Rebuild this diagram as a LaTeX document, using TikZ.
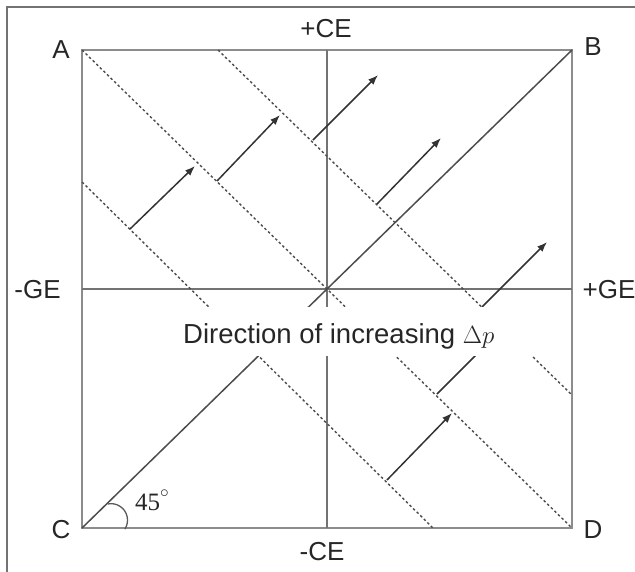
\documentclass[tikz,border=0pt]{standalone}
\usepackage{fontspec}
\setmainfont{Liberation Sans}
\newfontfamily\seriffont{Liberation Serif}
\usetikzlibrary{arrows.meta}
\begin{document}
\begin{tikzpicture}[x=1pt,y=-1pt,
  frame/.style={draw=black!55, line width=1.6pt},
  sq/.style={draw=black!45, line width=2.4pt},
  axis/.style={draw=black!55, line width=1.8pt},
  diag/.style={draw=black!70, line width=1.5pt},
  dashline/.style={draw=black!70, line width=1.4pt, dash pattern=on 2.5pt off 2.5pt},
  arr/.style={draw=black!80, line width=1.5pt, -{Latex[length=10pt,width=7.5pt]}},
  lbl/.style={font=\fontsize{26}{26}\selectfont, text=black!85, inner sep=0pt}]
\useasboundingbox (0,0) rectangle (635,571);
\clip (0,0) rectangle (635,571);
% outer frame (only top and left edges visible)
\draw[frame] (7,590) -- (7,7) -- (650,7);
% corners and axis ends
\coordinate (A) at (82,50);
\coordinate (B) at (572,50);
\coordinate (C) at (82,528);
\coordinate (D) at (572,528);
\coordinate (O) at (327,289);
\coordinate (Nt) at (327,50);
\coordinate (Nb) at (327,528);
\coordinate (Wl) at (82,289);
\coordinate (Er) at (572,289);
% square and axes
\draw[sq] (A) rectangle (D);
\draw[axis] (Nt) -- (Nb);
\draw[axis] (Wl) -- (Er);
% dashed iso-lines
\coordinate (L2a) at (82,182);
\coordinate (L2b) at (433,528);
\coordinate (L3a) at (218,50);
\coordinate (L3b) at (572,395);
\draw[dashline] (A) -- (D);
\draw[dashline] (L2a) -- (L2b);
\draw[dashline] (L3a) -- (L3b);
% solid diagonal
\draw[diag] (C) -- (B);
% arrows
\coordinate (a1s) at (130,229); \coordinate (a1e) at (195,166);
\coordinate (a2s) at (217,181); \coordinate (a2e) at (280,115);
\coordinate (a3s) at (313,140); \coordinate (a3e) at (378,75);
\coordinate (a4s) at (377,204); \coordinate (a4e) at (441,138);
\coordinate (a5s) at (482,307); \coordinate (a5e) at (547,242);
\coordinate (a6s) at (437,394); \coordinate (a6e) at (500,331);
\coordinate (a7s) at (387,480); \coordinate (a7e) at (452,413);
\draw[arr] (a1s) -- (a1e);
\draw[arr] (a2s) -- (a2e);
\draw[arr] (a3s) -- (a3e);
\draw[arr] (a4s) -- (a4e);
\draw[arr] (a5s) -- (a5e);
\draw[arr] (a6s) -- (a6e);
\draw[arr] (a7s) -- (a7e);
% white band behind the caption
\fill[white] (168,307) rectangle (540,356);
\node[anchor=base west, font=\fontsize{27.5}{27.5}\selectfont, text=black!85, inner sep=0pt] (dir) at (183,343) {Direction of increasing $\Delta p$};
% 45 degree mark
\draw[black!65, line width=1.3pt] (107.6,504) arc[start angle=102, end angle=-33, radius=16.5pt];
\node[anchor=base west, font=\seriffont\fontsize{25}{25}\selectfont, text=black!85, inner sep=0pt] (deg) at (135,510) {45\raisebox{0.5em}{$\scriptstyle\circ$}};
% labels
\node[lbl] (lA) at (61,50) {A};
\node[lbl] (lB) at (593,47) {B};
\node[lbl] (lC) at (61,530) {C};
\node[lbl] (lD) at (593,530) {D};
\node[lbl] (lpCE) at (326,28.5) {+CE};
\node[lbl] (lmCE) at (322,552) {-CE};
\node[lbl] (lmGE) at (37.5,289.5) {-GE};
\node[lbl] (lpGE) at (609,289.5) {+GE};
\end{tikzpicture}
\end{document}
